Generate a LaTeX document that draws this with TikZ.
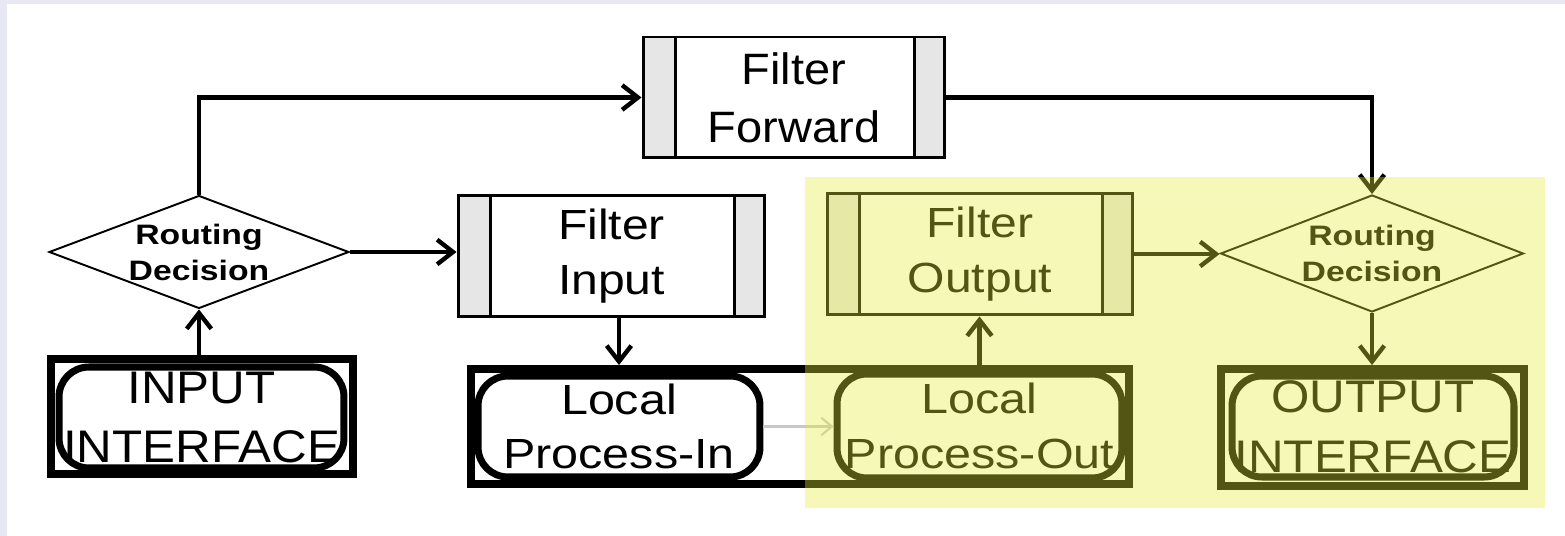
\documentclass[tikz,border=0pt]{standalone}
\usepackage{fontspec}
\setmainfont{Liberation Sans}
\usetikzlibrary{arrows.meta,shapes.geometric}
\definecolor{lav}{HTML}{E8E8F4}
\definecolor{stripc}{HTML}{E6E6E6}
\definecolor{ovl}{RGB}{230,236,55}
\definecolor{lightarr}{HTML}{C8C8C8}
\newcommand\hs[2][1.14]{\scalebox{#1}[1]{#2}}
\newcommand\myfilterfont{\fontsize{24}{31}\selectfont}
\newcommand\myfwdfont{\fontsize{25}{33}\selectfont}
\newcommand\myiffont{\fontsize{26}{34}\selectfont}
\newcommand\mydecfont{\bfseries\fontsize{16}{20.5}\selectfont}
\begin{document}
\begin{tikzpicture}[x=0.02cm,y=-0.02cm,
  filterbox/.style={draw, line width=1.7pt, fill=white, inner sep=0pt, align=center,
    path picture={
      \fill[stripc] (path picture bounding box.north west) rectangle ([xshift=0.64cm]path picture bounding box.south west);
      \fill[stripc] (path picture bounding box.north east) rectangle ([xshift=-0.6cm]path picture bounding box.south east);
      \draw[line width=1.7pt] ([xshift=0.64cm]path picture bounding box.north west) -- ([xshift=0.64cm]path picture bounding box.south west);
      \draw[line width=1.7pt] ([xshift=-0.6cm]path picture bounding box.north east) -- ([xshift=-0.6cm]path picture bounding box.south east);
    }},
  framebox/.style={draw, line width=4.5pt, inner sep=0pt},
  rbox/.style={draw, line width=4pt, rounded corners=17pt, inner sep=0pt, align=center},
  decision/.style={diamond, draw, line width=1.1pt, fill=white, inner sep=0pt},
  dtext/.style={align=center, inner sep=0pt, font=\mydecfont},
  arr/.style={line width=2.5pt, -{Straight Barb[length=9pt,width=14pt]}},
  lightarrow/.style={line width=1.2pt, draw=lightarr, -{Straight Barb[length=6pt,width=10pt]}}
]
\useasboundingbox (0,0) rectangle (1565,536);
\fill[white] (0,0) rectangle (1565,536);
\fill[lav] (0,0) rectangle (7,536);
\fill[lav] (0,0) rectangle (1565,4);

% filter boxes
\node[filterbox, minimum width=6.04cm, minimum height=2.42cm, font=\myfwdfont] (FF) at (794,97.5) {\hs[1.07]{Filter}\\\hs[1.07]{Forward}};
\node[filterbox, minimum width=6.14cm, minimum height=2.44cm, font=\myfilterfont] (FI) at (611.5,256) {\hs{Filter}\\\hs{Input}};
\node[filterbox, minimum width=6.12cm, minimum height=2.44cm, font=\myfilterfont] (FO) at (980,254) {\hs{Filter}\\\hs{Output}};

% interface and local process boxes
\node[framebox, minimum width=6.04cm, minimum height=2.30cm] (INF) at (202,416.5) {};
\node[rbox, minimum width=5.70cm, minimum height=2.02cm, font=\myiffont] (INT) at (201.5,417.5) {\hs[1.08]{INPUT}\\\hs[1.08]{INTERFACE}};
\node[framebox, minimum width=13.16cm, minimum height=2.30cm] (LF) at (800,426.5) {};
\node[rbox, minimum width=5.64cm, minimum height=2.02cm, font=\myfilterfont] (LPI) at (619,426.5) {\hs[1.15]{Local}\\\hs[1.15]{Process-In}};
\node[rbox, minimum width=5.70cm, minimum height=2.08cm, font=\myfilterfont] (LPO) at (979.5,426) {\hs[1.15]{Local}\\\hs[1.15]{Process-Out}};
\node[framebox, minimum width=6.06cm, minimum height=2.34cm] (OUF) at (1372.5,427.5) {};
\node[rbox, minimum width=5.64cm, minimum height=2.02cm, font=\myiffont] (OUT) at (1373,426.5) {\hs[1.08]{OUTPUT}\\\hs[1.08]{INTERFACE}};

% decisions
\node[decision, minimum width=6cm, minimum height=2.26cm] (D1) at (199,252) {};
\node[dtext] (D1t) at (D1) {\hs[1.2]{Routing}\\\hs[1.2]{Decision}};
\node[decision, minimum width=6.06cm, minimum height=2.34cm] (D2) at (1372,253.5) {};
\node[dtext] (D2t) at (D2) {\hs[1.2]{Routing}\\\hs[1.2]{Decision}};

% connectors
\draw[arr] (D1.south |- INF.north) -- (D1.south);
\draw[arr] (D1.north) -- (D1.north |- FF.west) -- (FF.west);
\draw[arr] (D1.east) -- (FI.west |- D1.east);
\draw[arr] (LPI.north |- FI.south) -- (LPI.north |- LF.north);
\draw[arr] (LPO.north |- LF.north) -- (LPO.north |- FO.south);
\draw[arr] (FO.east) -- (D2.west |- FO.east);
\draw[arr] (FF.east) -| (D2.north);
\draw[arr] (D2.south) -- (D2.south |- OUF.north);
\draw[lightarrow] (LPI.east) -- (LPO.west |- LPI.east);

% highlight overlay
\fill[ovl, opacity=0.36] (805,177) rectangle (1545,508);
\end{tikzpicture}
\end{document}
